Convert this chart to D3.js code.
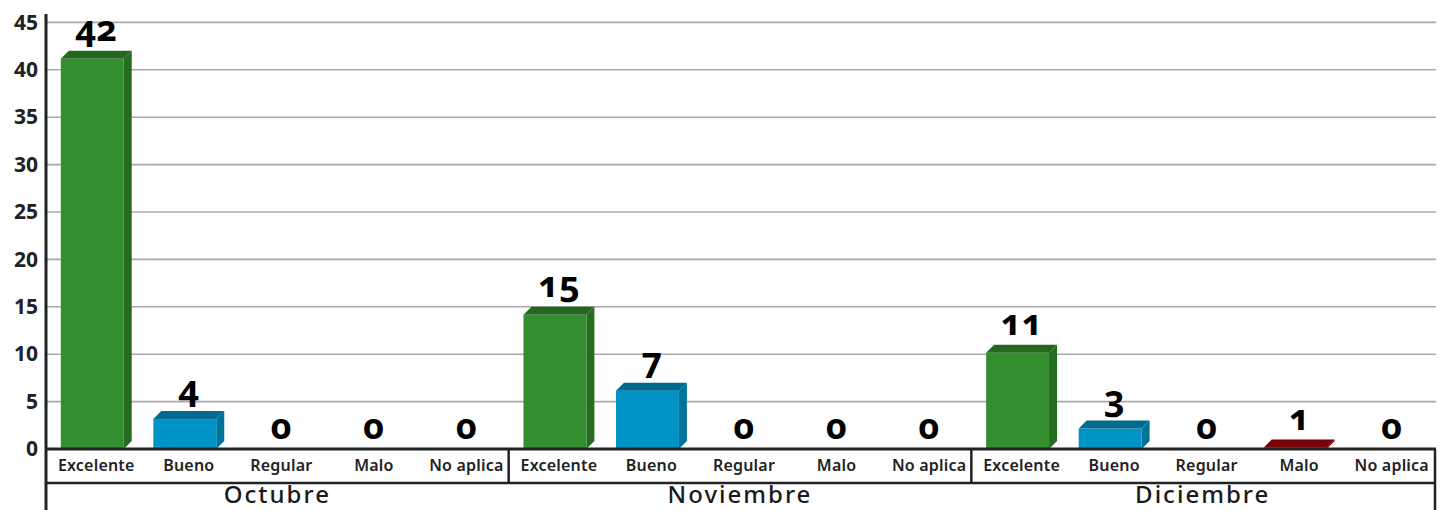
<!DOCTYPE html>
<html>
<head>
<meta charset="utf-8">
<script src="https://cdn.jsdelivr.net/npm/d3@7"></script>
<style>
  body { margin: 0; background: #fff; }
  svg { display: block; font-family: "Noto Sans", "DejaVu Sans", sans-serif; }
  .val { font-variant-numeric: oldstyle-nums; font-feature-settings: "onum" 1; }
</style>
</head>
<body>
<script>
/***********************************************************************************/
// Data

var months = ['Octubre', 'Noviembre', 'Diciembre'];
var categories = ['Excelente', 'Bueno', 'Regular', 'Malo', 'No aplica'];
var octubre = [42, 4, 0, 0, 0];
var noviembre = [15, 7, 0, 0, 0];
var diciembre = [11, 3, 0, 1, 0];
var yTicks = [0, 5, 10, 15, 20, 25, 30, 35, 40, 45];

var series = { 'Octubre': octubre, 'Noviembre': noviembre, 'Diciembre': diciembre };

// front / top / side colours per category
var colors = {
  'Excelente': ['#338e2f', '#24681f', '#256c21'],
  'Bueno':     ['#0093c6', '#006a8f', '#00739b'],
  'Regular':   ['#8a8a8a', '#6a6a6a', '#747474'],
  'Malo':      ['#8a0a10', '#780007', '#6e0006'],
  'No aplica': ['#888888', '#666666', '#707070']
};

/***********************************************************************************/
// Setup

var W = 1442, H = 510;
var left = 46, right = 1434, base = 449, depth = 8;

var svg = d3.select('body').append('svg').attr('width', W).attr('height', H);

var y = d3.scaleLinear().domain([0, 45]).range([base, 22.4]);
var x0 = d3.scaleBand().domain(months).range([left, right]);
var x1 = d3.scaleBand().domain(categories).range([0, x0.bandwidth()])
  .paddingInner(0.32).paddingOuter(0.16);

/***********************************************************************************/
// Gridlines + y axis

svg.append('g').selectAll('line').data(yTicks.slice(1)).enter().append('line')
  .attr('x1', left).attr('x2', 1436)
  .attr('y1', function(d){ return y(d); }).attr('y2', function(d){ return y(d); })
  .attr('stroke', '#a9a9a9').attr('stroke-width', 1.6);

var yAxis = svg.append('g').attr('transform', 'translate(38,0)')
  .call(d3.axisLeft(y).tickValues(yTicks).tickSize(0).tickPadding(0));
yAxis.select('.domain').remove();
yAxis.selectAll('text').attr('font-size', 21).attr('font-weight', 700)
  .attr('fill', '#222').attr('font-family', '"Noto Sans", sans-serif');

/***********************************************************************************/
// Bars

var rows = [];
months.forEach(function(m){
  categories.forEach(function(c, i){ rows.push({ month: m, cat: c, value: series[m][i] }); });
});

var bars = svg.append('g').selectAll('g').data(rows.filter(function(d){ return d.value > 0; }))
  .enter().append('g');

function xs(d){ return x0(d.month) + x1(d.cat); }

bars.each(function(d){
  var g = d3.select(this);
  var xa = xs(d), xb = xa + x1.bandwidth();
  var backTop = y(d.value), frontTop = Math.min(backTop + depth, base);
  // side
  g.append('path')
    .attr('d', 'M' + xb + ',' + frontTop + 'L' + (xb + depth) + ',' + backTop +
               'L' + (xb + depth) + ',' + (base - depth) + 'L' + xb + ',' + base + 'Z')
    .attr('fill', colors[d.cat][2]);
  // front
  g.append('rect').attr('x', xa).attr('y', frontTop)
    .attr('width', x1.bandwidth()).attr('height', base - frontTop)
    .attr('fill', colors[d.cat][0]);
  // top
  g.append('path')
    .attr('d', 'M' + xa + ',' + frontTop + 'L' + (xa + depth) + ',' + backTop +
               'L' + (xb + depth) + ',' + backTop + 'L' + xb + ',' + frontTop + 'Z')
    .attr('fill', colors[d.cat][1]);
});

/***********************************************************************************/
// Value labels

svg.append('g').selectAll('text').data(rows).enter().append('text')
  .attr('class', 'val')
  .attr('x', function(d){ return xs(d) + x1.bandwidth() / 2 + depth / 2; })
  .attr('y', function(d){ return y(d.value) - 10; })
  .attr('text-anchor', 'middle')
  .attr('font-size', 36).attr('font-weight', 700).attr('fill', '#000')
  .text(function(d){ return d.value; });

/***********************************************************************************/
// Category axis (two levels)

var axisG = svg.append('g').attr('stroke', '#222').attr('fill', 'none');
axisG.append('line').attr('x1', left).attr('x2', right + 2).attr('y1', base).attr('y2', base).attr('stroke-width', 3);
axisG.append('line').attr('x1', left).attr('x2', right + 2).attr('y1', 483).attr('y2', 483).attr('stroke-width', 2.5);
axisG.append('line').attr('x1', left).attr('x2', left).attr('y1', 14).attr('y2', H).attr('stroke-width', 3);
axisG.append('line').attr('x1', right + 1).attr('x2', right + 1).attr('y1', base).attr('y2', H).attr('stroke-width', 2.5);
axisG.selectAll('.sep').data(months.slice(1)).enter().append('line')
  .attr('x1', function(m){ return x0(m); }).attr('x2', function(m){ return x0(m); })
  .attr('y1', base).attr('y2', 483).attr('stroke-width', 2.5);

svg.append('g').selectAll('text').data(rows).enter().append('text')
  .attr('x', function(d){ return xs(d) + x1.bandwidth() / 2 + depth / 2; })
  .attr('y', 471)
  .attr('text-anchor', 'middle')
  .attr('font-size', 16).attr('font-weight', 600).attr('fill', '#222')
  .attr('letter-spacing', 0.2)
  .text(function(d){ return d.cat; });

svg.append('g').selectAll('text').data(months).enter().append('text')
  .attr('x', function(m){ return x0(m) + x0.bandwidth() / 2; })
  .attr('y', 503)
  .attr('text-anchor', 'middle')
  .attr('font-size', 24).attr('font-weight', 500).attr('fill', '#1a1a1a')
  .attr('letter-spacing', 2)
  .text(function(m){ return m; });
</script>
</body>
</html>
